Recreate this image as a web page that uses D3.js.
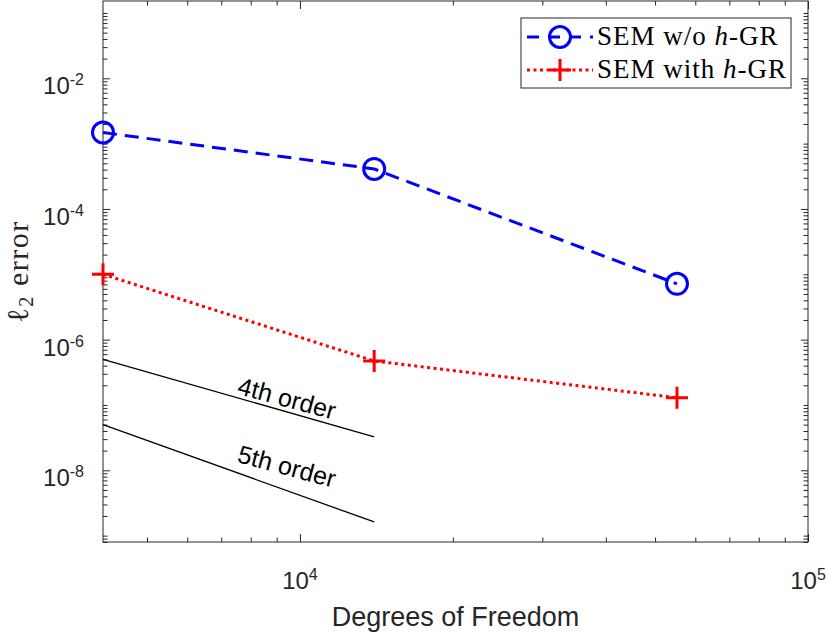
<!DOCTYPE html>
<html><head><meta charset="utf-8">
<script src="https://cdn.jsdelivr.net/npm/d3@7"></script>
<style>body{margin:0;background:#fff}svg{display:block}</style>
</head><body><svg id="c" width="830" height="633"></svg>
<script>
// ---- data ----
const dof = [4096, 14000, 55225];
const errWithoutGR = [1.48e-3, 4.1e-4, 7.15e-6];
const errWithGR = [1.0e-5, 4.71e-7, 1.29e-7];
const refDof = [4096, 14000];
const ref4th = [5.0e-7, 3.25e-8];
const ref5th = [5.0e-8, 1.62e-9];
const refLabels = ["4th order", "5th order"];
const refLabelDof = [9430, 9430];
const refLabelErr = [1.28e-7, 1.16e-8];
const xMajor = [1e4, 1e5];
const xExp = ["4", "5"];
const yMajor = [1e-2, 1e-4, 1e-6, 1e-8];
const yExp = ["-2", "-4", "-6", "-8"];
const xDomain = [4096, 1e5];
const yDomain = [Math.pow(10, -9.0975), Math.pow(10, -0.8168)];

// ---- layout ----
const L = 103, R = 808, T = 1, B = 542;
const axisColor = "#262626";
const svg = d3.select("#c");

const x = d3.scaleLog().domain(xDomain).range([L, R]);
const y = d3.scaleLog().domain(yDomain).range([B, T]);

const isMajor = (arr) => (v) => arr.some(m => Math.abs(Math.log10(m) - Math.log10(v)) < 1e-9);
const xMinor = x.ticks().filter(v => !isMajor(xMajor)(v) && v >= xDomain[0] && v <= xDomain[1]);
const yMinor = y.ticks().filter(v => !isMajor(yMajor)(v));

function drawAxis(gen, tr, vals, size) {
  const g = svg.append("g").attr("transform", tr)
    .call(gen.tickValues(vals).tickSize(size).tickSizeOuter(0).tickFormat(""));
  g.select(".domain").remove();
  g.selectAll("line").attr("stroke", axisColor).attr("stroke-width", 1);
}
// inward ticks on all four sides
drawAxis(d3.axisBottom(x), `translate(0,${B})`, xMajor, -8);
drawAxis(d3.axisBottom(x), `translate(0,${B})`, xMinor, -4.5);
drawAxis(d3.axisTop(x), `translate(0,${T})`, xMajor, -8);
drawAxis(d3.axisTop(x), `translate(0,${T})`, xMinor, -4.5);
drawAxis(d3.axisLeft(y), `translate(${L},0)`, yMajor, -7);
drawAxis(d3.axisLeft(y), `translate(${L},0)`, yMinor, -4.5);
drawAxis(d3.axisRight(y), `translate(${R},0)`, yMajor, -7);
drawAxis(d3.axisRight(y), `translate(${R},0)`, yMinor, -4.5);

// frame
svg.append("rect").attr("x", L).attr("y", T).attr("width", R - L).attr("height", B - T)
  .attr("fill", "none").attr("stroke", axisColor).attr("stroke-width", 1);

// tick labels
const sans = "'Liberation Sans', Arial, Helvetica, sans-serif";
xMajor.forEach((v, i) => {
  const t = svg.append("text").attr("x", x(v)).attr("y", 589)
    .attr("text-anchor", "middle").attr("font-family", sans).attr("font-size", 24).attr("fill", axisColor);
  t.append("tspan").text("10");
  t.append("tspan").attr("dy", -9).attr("font-size", 16).text(xExp[i]);
});
yMajor.forEach((v, i) => {
  const t = svg.append("text").attr("x", 84).attr("y", y(v) + 16)
    .attr("text-anchor", "end").attr("font-family", sans).attr("font-size", 24).attr("fill", axisColor);
  t.append("tspan").text("10");
  t.append("tspan").attr("dy", -9).attr("font-size", 16).text(yExp[i]);
});

// axis labels
svg.append("text").attr("x", (L + R) / 2).attr("y", 626).attr("text-anchor", "middle")
  .attr("font-family", sans).attr("font-size", 27).attr("fill", axisColor).text("Degrees of Freedom");
const serif = "'Liberation Serif', 'Times New Roman', serif";
const yl = svg.append("text").attr("transform", `translate(28,${(T + B) / 2}) rotate(-90)`)
  .attr("text-anchor", "middle").attr("font-family", serif).attr("font-size", 30)
  .attr("letter-spacing", 1.5).attr("fill", axisColor);
yl.append("tspan").text("\u2113");
yl.append("tspan").attr("font-size", 21).attr("dy", 5).text("2");
yl.append("tspan").attr("dy", -5).text(" error");

// reference lines
const line = d3.line().x(d => x(d[0])).y(d => y(d[1]));
[ref4th, ref5th].forEach((ref, i) => {
  svg.append("path").attr("d", line(refDof.map((d, j) => [d, ref[j]])))
    .attr("fill", "none").attr("stroke", "#000").attr("stroke-width", 1.3);
  svg.append("text")
    .attr("transform", `translate(${x(refLabelDof[i])},${y(refLabelErr[i])}) rotate(15)`)
    .attr("text-anchor", "middle").attr("dy", "0.36em")
    .attr("font-family", sans).attr("font-size", 25).attr("fill", "#000").text(refLabels[i]);
});

// series
const blue = "#0000ff", red = "#ff0000";
svg.append("path").attr("d", line(dof.map((d, i) => [d, errWithoutGR[i]])))
  .attr("fill", "none").attr("stroke", blue).attr("stroke-width", 3).attr("stroke-dasharray", "14,8");
svg.append("path").attr("d", line(dof.map((d, i) => [d, errWithGR[i]])))
  .attr("fill", "none").attr("stroke", red).attr("stroke-width", 3).attr("stroke-dasharray", "3,3.5");

function circleMarker(g, cx, cy) {
  g.append("circle").attr("cx", cx).attr("cy", cy).attr("r", 10.5)
    .attr("fill", "none").attr("stroke", blue).attr("stroke-width", 3);
}
function plusMarker(g, cx, cy) {
  g.append("path").attr("d", `M${cx - 11},${cy}H${cx + 11}M${cx},${cy - 11}V${cy + 11}`)
    .attr("stroke", red).attr("stroke-width", 3).attr("fill", "none");
}
dof.forEach((d, i) => circleMarker(svg, x(d), y(errWithoutGR[i])));
dof.forEach((d, i) => plusMarker(svg, x(d), y(errWithGR[i])));

// legend
const lg = svg.append("g");
lg.append("rect").attr("x", 521).attr("y", 18).attr("width", 270).attr("height", 70)
  .attr("fill", "#fff").attr("stroke", axisColor).attr("stroke-width", 1);
const rows = [
  {cy: 37, color: blue, dash: "12,9", marker: circleMarker, pre: "SEM w/o "},
  {cy: 70, color: red, dash: "3,3.5", marker: plusMarker, pre: "SEM with "}
];
rows.forEach(r => {
  lg.append("line").attr("x1", 527).attr("x2", 593).attr("y1", r.cy).attr("y2", r.cy)
    .attr("stroke", r.color).attr("stroke-width", 3).attr("stroke-dasharray", r.dash);
  r.marker(lg, 560, r.cy);
  const t = lg.append("text").attr("x", 597).attr("y", r.cy + 8)
    .attr("font-family", serif).attr("font-size", 27).attr("letter-spacing", 1).attr("fill", "#000");
  t.append("tspan").text(r.pre);
  t.append("tspan").attr("font-style", "italic").text("h");
  t.append("tspan").text("-GR");
});
</script></body></html>
